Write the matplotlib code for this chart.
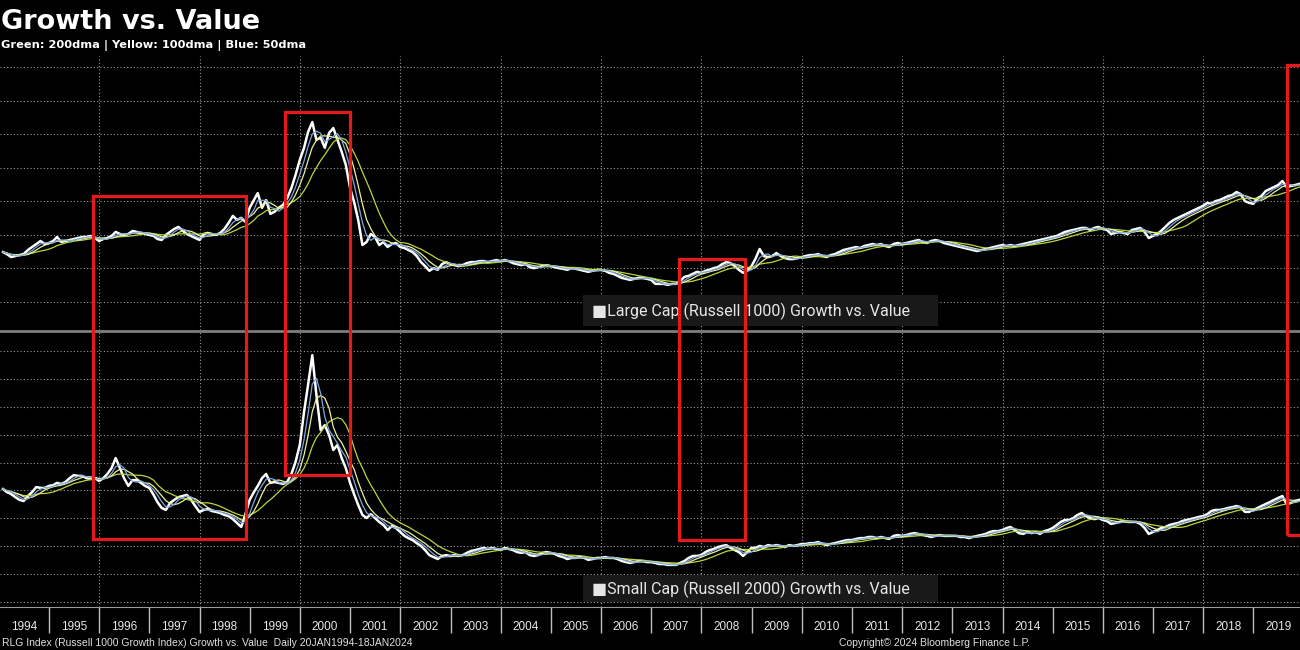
import matplotlib
matplotlib.use("Agg")
import matplotlib.pyplot as plt
import matplotlib.dates as mdates
from matplotlib.patches import Rectangle
from matplotlib.transforms import blended_transform_factory
import pandas as pd

# month-end dates, Jan 1994 .. Jan 2020
months = pd.date_range("1994-02-01", periods=313, freq="MS") - pd.Timedelta(days=1)

# Large cap (Russell 1000) growth / value ratio, in grid steps
large_cap = [
    1.49, 1.43, 1.34, 1.37, 1.40, 1.43, 1.55, 1.64, 1.73, 1.82, 1.73, 1.76,
    1.82, 1.94, 1.79, 1.82, 1.85, 1.88, 1.91, 1.94, 1.94, 1.97, 1.91, 1.82,
    1.88, 1.91, 1.97, 2.09, 2.03, 2.00, 2.03, 2.12, 2.09, 2.06, 2.03, 2.00,
    1.97, 1.88, 1.85, 2.00, 2.09, 2.18, 2.24, 2.12, 2.03, 1.97, 1.91, 1.85,
    2.03, 2.06, 2.03, 2.00, 2.06, 2.18, 2.36, 2.57, 2.45, 2.51, 2.39, 2.81,
    3.04, 3.25, 2.81, 3.04, 2.63, 2.69, 2.81, 2.90, 3.10, 3.40, 3.79, 4.24,
    4.60, 5.07, 5.37, 4.84, 4.90, 4.60, 5.04, 5.19, 4.84, 4.48, 4.09, 3.40,
    2.96, 2.45, 1.70, 1.79, 2.03, 1.94, 1.70, 1.79, 1.64, 1.73, 1.76, 1.64,
    1.61, 1.55, 1.49, 1.37, 1.19, 1.07, 0.93, 1.01, 0.96, 1.13, 1.19, 1.13,
    1.10, 1.07, 1.10, 1.16, 1.19, 1.19, 1.22, 1.22, 1.19, 1.22, 1.25, 1.22,
    1.25, 1.22, 1.16, 1.13, 1.10, 1.13, 1.04, 1.01, 1.04, 1.07, 1.10, 1.07,
    1.04, 1.01, 0.99, 0.96, 1.01, 0.99, 0.96, 0.93, 0.90, 0.93, 0.96, 0.96,
    0.93, 0.87, 0.84, 0.78, 0.72, 0.69, 0.66, 0.69, 0.72, 0.72, 0.69, 0.66,
    0.54, 0.54, 0.54, 0.51, 0.54, 0.54, 0.63, 0.75, 0.78, 0.84, 0.90, 0.87,
    0.93, 0.96, 1.01, 1.04, 1.13, 1.19, 1.16, 1.07, 0.96, 0.87, 0.93, 1.07,
    1.31, 1.58, 1.37, 1.34, 1.37, 1.46, 1.37, 1.31, 1.28, 1.28, 1.31, 1.34,
    1.37, 1.40, 1.40, 1.43, 1.37, 1.34, 1.40, 1.43, 1.49, 1.55, 1.58, 1.61,
    1.64, 1.61, 1.67, 1.70, 1.73, 1.70, 1.73, 1.67, 1.64, 1.73, 1.76, 1.73,
    1.76, 1.79, 1.82, 1.85, 1.79, 1.76, 1.82, 1.85, 1.82, 1.76, 1.73, 1.70,
    1.67, 1.64, 1.61, 1.58, 1.55, 1.52, 1.55, 1.58, 1.61, 1.64, 1.67, 1.70,
    1.67, 1.70, 1.67, 1.70, 1.73, 1.76, 1.79, 1.82, 1.85, 1.88, 1.91, 1.94,
    1.97, 2.03, 2.09, 2.12, 2.15, 2.18, 2.21, 2.21, 2.15, 2.21, 2.24, 2.18,
    2.15, 2.03, 2.06, 2.09, 2.06, 2.03, 2.15, 2.18, 2.21, 2.09, 1.91, 1.97,
    2.03, 2.12, 2.24, 2.36, 2.45, 2.51, 2.57, 2.63, 2.69, 2.75, 2.81, 2.87,
    2.96, 2.93, 3.01, 3.04, 3.10, 3.16, 3.19, 3.28, 3.22, 3.01, 2.96, 2.93,
    3.10, 3.16, 3.31, 3.37, 3.43, 3.49, 3.61, 3.43, 3.46, 3.49, 3.52, 3.58,
    3.64,
]

# Small cap (Russell 2000) growth / value ratio, in grid steps
small_cap = [
    4.05, 3.94, 3.87, 3.76, 3.66, 3.62, 3.80, 3.94, 4.12, 4.09, 4.09, 4.16,
    4.19, 4.27, 4.23, 4.30, 4.44, 4.55, 4.52, 4.52, 4.44, 4.41, 4.44, 4.34,
    4.44, 4.59, 4.80, 5.16, 4.80, 4.44, 4.16, 4.37, 4.37, 4.27, 4.16, 4.09,
    3.84, 3.58, 3.37, 3.30, 3.55, 3.66, 3.76, 3.80, 3.84, 3.66, 3.44, 3.23,
    3.30, 3.33, 3.26, 3.23, 3.19, 3.12, 3.08, 2.97, 2.83, 2.69, 3.15, 3.66,
    3.94, 4.16, 4.44, 4.59, 4.27, 4.30, 4.27, 4.23, 4.30, 4.59, 5.02, 5.63,
    6.81, 7.78, 8.85, 7.42, 6.16, 6.34, 5.99, 5.45, 5.63, 5.16, 4.80, 4.27,
    3.84, 3.48, 3.12, 3.01, 3.15, 3.01, 2.87, 2.76, 2.58, 2.72, 2.65, 2.51,
    2.37, 2.29, 2.22, 2.11, 2.01, 1.86, 1.68, 1.61, 1.54, 1.65, 1.68, 1.65,
    1.68, 1.65, 1.68, 1.76, 1.83, 1.86, 1.90, 1.94, 1.90, 1.94, 1.90, 1.86,
    1.94, 1.90, 1.86, 1.79, 1.76, 1.79, 1.68, 1.65, 1.68, 1.76, 1.79, 1.76,
    1.72, 1.65, 1.61, 1.54, 1.58, 1.58, 1.61, 1.58, 1.51, 1.54, 1.58, 1.58,
    1.61, 1.58, 1.58, 1.54, 1.47, 1.43, 1.40, 1.43, 1.47, 1.47, 1.43, 1.43,
    1.40, 1.36, 1.36, 1.33, 1.33, 1.33, 1.40, 1.47, 1.58, 1.65, 1.65, 1.68,
    1.79, 1.86, 1.90, 1.97, 2.01, 2.04, 1.94, 1.86, 1.79, 1.65, 1.79, 1.94,
    1.94, 2.01, 1.97, 2.04, 2.01, 2.04, 2.01, 1.97, 2.04, 2.01, 2.04, 2.08,
    2.08, 2.11, 2.11, 2.15, 2.08, 2.04, 2.08, 2.11, 2.15, 2.19, 2.22, 2.22,
    2.26, 2.29, 2.29, 2.33, 2.33, 2.29, 2.33, 2.29, 2.26, 2.37, 2.40, 2.37,
    2.40, 2.44, 2.47, 2.44, 2.40, 2.37, 2.33, 2.37, 2.40, 2.37, 2.37, 2.37,
    2.37, 2.33, 2.33, 2.29, 2.33, 2.37, 2.40, 2.44, 2.51, 2.54, 2.54, 2.58,
    2.65, 2.69, 2.58, 2.47, 2.44, 2.51, 2.47, 2.51, 2.44, 2.54, 2.58, 2.65,
    2.76, 2.87, 2.94, 2.94, 3.01, 3.12, 3.19, 3.08, 3.01, 2.97, 3.01, 2.94,
    2.90, 2.80, 2.83, 2.87, 2.90, 2.87, 2.87, 2.87, 2.80, 2.65, 2.44, 2.51,
    2.58, 2.65, 2.69, 2.76, 2.80, 2.83, 2.90, 2.94, 2.97, 3.01, 3.05, 3.08,
    3.15, 3.26, 3.30, 3.30, 3.33, 3.37, 3.40, 3.44, 3.40, 3.23, 3.23, 3.30,
    3.37, 3.44, 3.51, 3.58, 3.66, 3.73, 3.80, 3.51, 3.55, 3.62, 3.66, 3.69,
    3.70,
]

panel_names = ["Large Cap (Russell 1000) Growth vs. Value",
               "Small Cap (Russell 2000) Growth vs. Value"]

# highlighted periods (start, end)
box_periods = [("1995-11-16", "1998-12-03"), ("1999-09-14", "2000-12-31"),
               ("2007-07-21", "2008-11-13"), ("2019-09-02", "2021-01-01")]

# moving averages on monthly data: 50dma ~ 3m, 100dma ~ 5m, 200dma ~ 10m
ma_windows = [(10, "#b9d63c"), (5, "#f0f09a"), (3, "#7aa8e0")]

BG = "black"
GRID = "#9a9a9a"
W, H = 1300, 650

fig = plt.figure(figsize=(13, 6.5), dpi=100, facecolor=BG)
ax_top = fig.add_axes([0, 1 - 330 / H, 1, 274 / H])
ax_bot = fig.add_axes([0, 1 - 607 / H, 1, 275 / H])

xmin = pd.Timestamp("1994-01-09")
xmax = pd.Timestamp("2019-12-06")

for ax, values, ylim, nlines in [(ax_top, large_cap, (-0.836, 7.34), 8),
                                 (ax_bot, small_cap, (-0.18, 9.68), 10)]:
    s = pd.Series(values, index=months)
    ax.set_facecolor(BG)
    ax.plot(s.index, s.values, color="white", lw=1.8, zorder=3)
    for win, col in ma_windows:
        ma = s.rolling(win, min_periods=1).mean()
        ax.plot(ma.index, ma.values, color=col, lw=0.9, zorder=4)
    ax.set_xlim(xmin, xmax)
    ax.set_ylim(*ylim)
    ax.set_yticks(range(nlines))
    ax.yaxis.grid(True, color=GRID, ls=(0, (1, 2)), lw=0.8)
    for yr in range(1994, 2021, 2):
        ax.axvline(pd.Timestamp(f"{yr}-01-01"), color=GRID, ls=(0, (1, 2)), lw=0.8, zorder=1)
    ax.set_axisbelow(True)
    ax.tick_params(axis="y", left=False, labelleft=False)
    for sp in ax.spines.values():
        sp.set_visible(False)

ax_top.tick_params(axis="x", bottom=False, labelbottom=False)

# year axis: separators at year starts, labels centred in each year
ax_bot.xaxis.set_major_locator(mdates.YearLocator(1))
ax_bot.xaxis.set_major_formatter(plt.NullFormatter())
ax_bot.xaxis.set_minor_locator(mdates.YearLocator(1, month=7, day=1))
ax_bot.xaxis.set_minor_formatter(mdates.DateFormatter("%Y"))
ax_bot.tick_params(axis="x", which="major", length=19, width=1, color="#bdbdbd", direction="out")
ax_bot.tick_params(axis="x", which="minor", length=0, pad=10, labelsize=8.5, labelcolor="#e8e8e8")
for lab in ax_bot.get_xticklabels(minor=True):
    lab.set_family("Liberation Sans")
ax_bot.spines["bottom"].set_visible(True)
ax_bot.spines["bottom"].set_color("#9a9a9a")
ax_bot.spines["bottom"].set_linewidth(0.8)

# divider between the two panels
fig.add_artist(plt.Line2D([0, 1], [1 - 331 / H] * 2, color="#7d7d7d", lw=2.0, zorder=6))

# panel legends
for (yb, hb, yt), name in zip([(326, 31, 311), (602, 27, 589)], panel_names):
    fig.add_artist(Rectangle((583 / W, 1 - yb / H), 355 / W, hb / H,
                             facecolor="#191919", edgecolor="none", zorder=7))
    fig.text(592 / W, 1 - yt / H, "\u25a0" + name, color="#e6e6e6", fontsize=11.5,
             family=["Roboto", "DejaVu Sans"], va="center", ha="left", zorder=8)

# red highlight boxes spanning both panels
trans = blended_transform_factory(ax_bot.transData, fig.transFigure)
box_tops = [196, 112, 259, 65]
box_bottoms = [539, 475, 540, 535]
for (a, b), yt, yb in zip(box_periods, box_tops, box_bottoms):
    x0 = mdates.date2num(pd.Timestamp(a))
    x1 = mdates.date2num(pd.Timestamp(b))
    fig.add_artist(Rectangle((x0, 1 - yb / H), x1 - x0, (yb - yt) / H, transform=trans,
                             fill=False, edgecolor="#e41a1a", lw=2.3, zorder=9))

# titles and footer
fig.text(0.001, 1 - 29 / H, "Growth vs. Value", color="white", fontsize=19.5,
         fontweight="bold", family="DejaVu Sans", va="baseline")
fig.text(0.001, 1 - 48 / H, "Green: 200dma | Yellow: 100dma | Blue: 50dma", color="white",
         fontsize=8.2, fontweight="bold", family="DejaVu Sans", va="baseline")
fig.text(2 / W, 1 - 646 / H,
         "RLG Index (Russell 1000 Growth Index) Growth vs. Value  Daily 20JAN1994-18JAN2024",
         color="#e0e0e0", fontsize=7.5, family="Liberation Sans", va="baseline")
fig.text(839 / W, 1 - 646 / H, "Copyright\u00a9 2024 Bloomberg Finance L.P.",
         color="#e0e0e0", fontsize=7.5, family="Liberation Sans", va="baseline")

fig.savefig("out.png", dpi=100, facecolor=BG)
